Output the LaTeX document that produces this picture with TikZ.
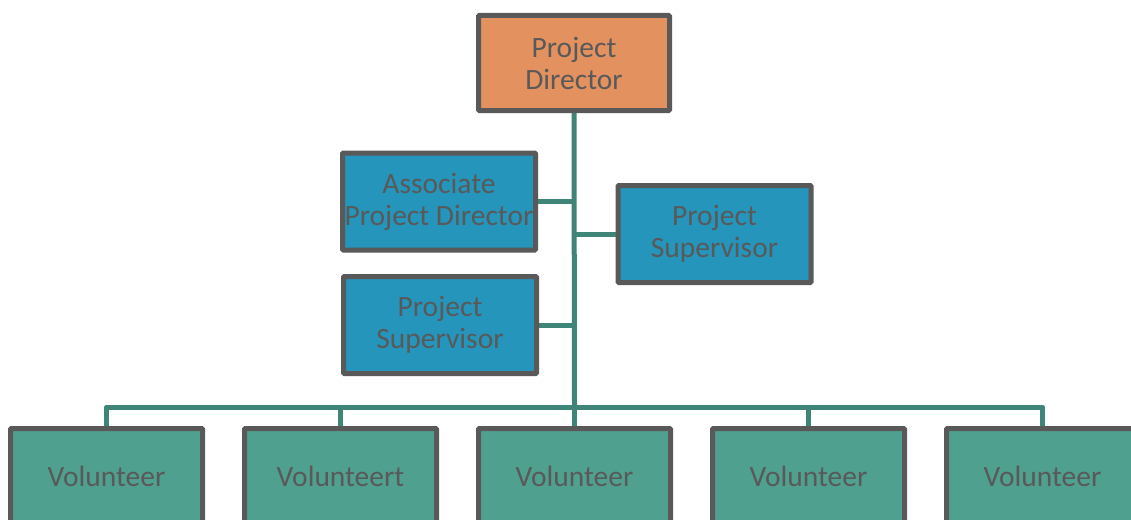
\documentclass[tikz,border=0pt]{standalone}
\usepackage{fontspec}
\setmainfont{Carlito}
\usetikzlibrary{backgrounds}
\definecolor{txt}{HTML}{595959}
\definecolor{bord}{HTML}{595959}
\definecolor{orangefill}{HTML}{E3915F}
\definecolor{bluefill}{HTML}{2595BB}
\definecolor{greenfill}{HTML}{50A090}
\definecolor{conn}{HTML}{3E8577}
\tikzset{
  box/.style={draw=bord, line width=5pt, rounded corners=1pt, inner sep=0pt, align=center,
    text=txt, font=\fontsize{29.5}{32}\selectfont},
  topbox/.style={box, fill=orangefill, minimum width=191pt, minimum height=95pt},
  midbox/.style={box, fill=bluefill, minimum width=193pt, minimum height=97pt},
  volbox/.style={box, fill=greenfill, minimum width=192pt, minimum height=95pt},
  link/.style={draw=conn, line width=5pt, line join=round}
}
\begin{document}
\begin{tikzpicture}[x=1pt,y=-1pt]
\useasboundingbox (0,0) rectangle (1131,519);
\clip (0,0) rectangle (1131,519);
\coordinate (bus) at (574.5,407);
\coordinate (j1) at (574.5,201);
\coordinate (j2) at (574.5,234);
\coordinate (j3) at (574.5,325);
\node[topbox] (pd) at (574,63) {Project\\Director};
\node[midbox] (apd) at (439,201.5) {Associate\\Project Director};
\node[midbox] (ps1) at (440,325) {Project\\Supervisor};
\node[midbox] (ps2) at (714.5,234) {Project\\Supervisor};
\node[volbox] (v1) at (106.5,476) {Volunteer};
\node[volbox] (v2) at (340.5,476) {Volunteert};
\node[volbox] (v3) at (574.5,476) {Volunteer};
\node[volbox] (v4) at (808.5,476) {Volunteer};
\node[volbox] (v5) at (1042.5,476) {Volunteer};
\begin{scope}[on background layer]
\draw[link] (pd.south) -- (bus);
\draw[link] (apd.east |- j1) -- (j1);
\draw[link] (ps1.east |- j3) -- (j3);
\draw[link] (ps2.west |- j2) -- (j2);
\draw[link] (v1.north) -- (v1.north |- bus) -- (v5.north |- bus) -- (v5.north);
\draw[link] (v2.north) -- (v2.north |- bus);
\draw[link] (v3.north) -- (v3.north |- bus);
\draw[link] (v4.north) -- (v4.north |- bus);
\end{scope}
\end{tikzpicture}
\end{document}
